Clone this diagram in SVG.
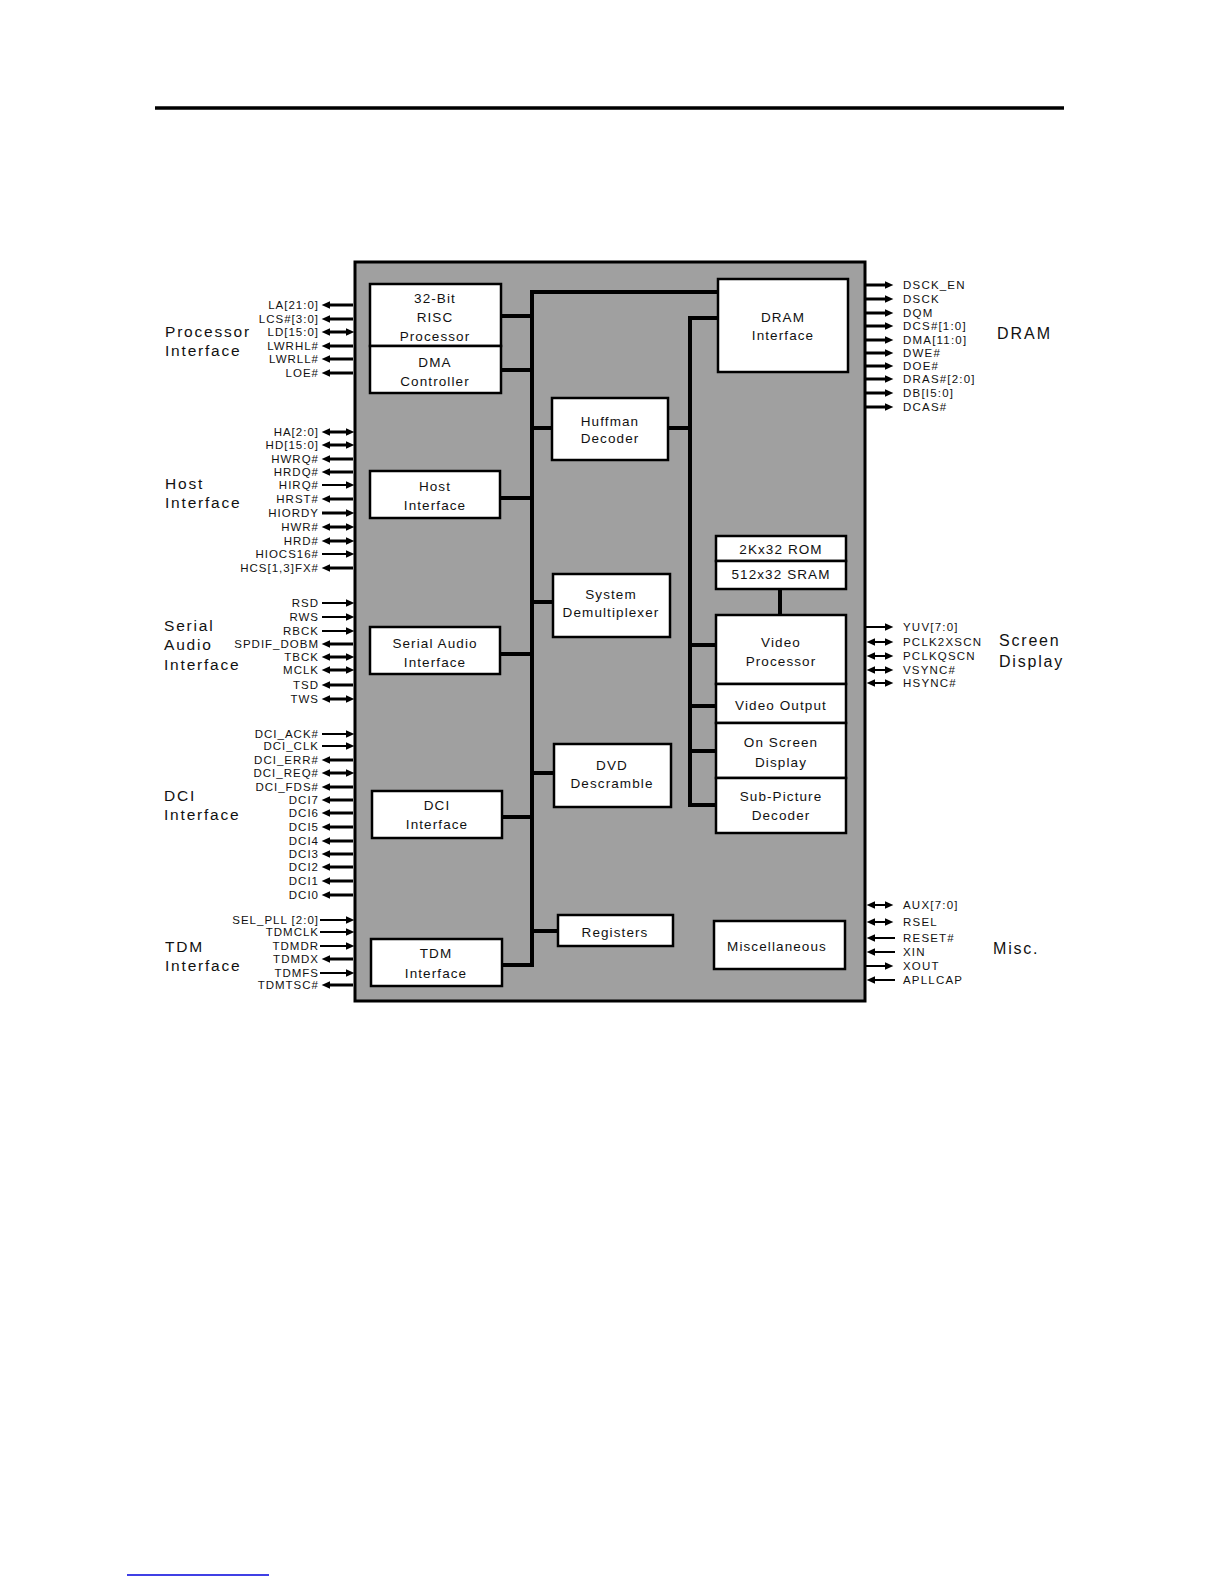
<svg xmlns="http://www.w3.org/2000/svg" width="1225" height="1585" viewBox="0 0 1225 1585">
<defs>
<marker id="ah" viewBox="0 0 8 7" refX="3" refY="3.5" markerWidth="9" markerHeight="7.5" markerUnits="userSpaceOnUse" orient="auto-start-reverse"><path d="M0,0 L8,3.5 L0,7 z" fill="#000"/></marker>
</defs>
<style>
.blk{fill:#fff;stroke:#000;stroke-width:2.5}
.bt{font-family:"Liberation Sans",Arial,sans-serif;font-size:13.5px;letter-spacing:1.1px;fill:#111;text-anchor:middle}
.sl{font-family:"Liberation Sans",Arial,sans-serif;font-size:11.5px;letter-spacing:1px;fill:#111;text-anchor:end}
.sr{font-family:"Liberation Sans",Arial,sans-serif;font-size:11.5px;letter-spacing:1.2px;fill:#111}
.gl{font-family:"Liberation Sans",Arial,sans-serif;font-size:15.5px;letter-spacing:1.8px;fill:#111}
.bus{stroke:#000;stroke-width:4;fill:none}
.o{stroke:#000;stroke-width:3}
.i{stroke:#000;stroke-width:2}
</style>
<line x1="155" y1="108" x2="1064" y2="108" stroke="#000" stroke-width="3.5"/>
<line x1="127" y1="1575" x2="269" y2="1575" stroke="#0000dd" stroke-width="1.5"/>
<rect id="chip" x="355" y="262" width="510" height="739" fill="#a0a0a0" stroke="#000" stroke-width="3"/>
<g id="connectors">
<path class="bus" d="M718,292 H532 V965"/>
<path class="bus" d="M718,318 H690 V805 H716"/>
<line class="bus" x1="501" y1="316" x2="532" y2="316"/>
<line class="bus" x1="501" y1="370" x2="532" y2="370"/>
<line class="bus" x1="532" y1="428" x2="552" y2="428"/>
<line class="bus" x1="500" y1="498" x2="532" y2="498"/>
<line class="bus" x1="532" y1="602" x2="553" y2="602"/>
<line class="bus" x1="500" y1="654" x2="532" y2="654"/>
<line class="bus" x1="532" y1="773" x2="554" y2="773"/>
<line class="bus" x1="502" y1="817" x2="532" y2="817"/>
<line class="bus" x1="532" y1="931" x2="558" y2="931"/>
<line class="bus" x1="502" y1="965" x2="534" y2="965"/>
<line class="bus" x1="668" y1="428" x2="690" y2="428"/>
<line class="bus" x1="690" y1="645" x2="716" y2="645"/>
<line class="bus" x1="690" y1="706" x2="716" y2="706"/>
<line class="bus" x1="690" y1="751" x2="716" y2="751"/>
<line class="bus" x1="780" y1="589" x2="780" y2="615"/>
</g>
<g id="risc"><rect class="blk" x="370" y="284" width="131" height="62"/><text class="bt" x="435" y="303">32-Bit</text><text class="bt" x="435" y="322">RISC</text><text class="bt" x="435" y="341">Processor</text></g>
<g id="dma"><rect class="blk" x="370" y="346" width="131" height="47"/><text class="bt" x="435" y="367">DMA</text><text class="bt" x="435" y="386">Controller</text></g>
<g id="dram-if"><rect class="blk" x="718" y="279" width="130" height="93"/><text class="bt" x="783" y="322">DRAM</text><text class="bt" x="783" y="340">Interface</text></g>
<g id="huffman"><rect class="blk" x="552" y="398" width="116" height="62"/><text class="bt" x="610" y="426">Huffman</text><text class="bt" x="610" y="443">Decoder</text></g>
<g id="host-if"><rect class="blk" x="370" y="471" width="130" height="47"/><text class="bt" x="435" y="491">Host</text><text class="bt" x="435" y="510">Interface</text></g>
<g id="rom"><rect class="blk" x="716" y="536" width="130" height="25"/><text class="bt" x="781" y="554">2Kx32 ROM</text></g>
<g id="sram"><rect class="blk" x="716" y="561" width="130" height="28"/><text class="bt" x="781" y="579">512x32 SRAM</text></g>
<g id="sysdemux"><rect class="blk" x="553" y="574" width="117" height="63"/><text class="bt" x="611" y="599">System</text><text class="bt" x="611" y="617">Demultiplexer</text></g>
<g id="serial-if"><rect class="blk" x="370" y="627" width="130" height="47"/><text class="bt" x="435" y="648">Serial Audio</text><text class="bt" x="435" y="667">Interface</text></g>
<g id="video-proc"><rect class="blk" x="716" y="615" width="130" height="69"/><text class="bt" x="781" y="647">Video</text><text class="bt" x="781" y="666">Processor</text></g>
<g id="video-out"><rect class="blk" x="716" y="684" width="130" height="39"/><text class="bt" x="781" y="710">Video Output</text></g>
<g id="osd"><rect class="blk" x="716" y="723" width="130" height="55"/><text class="bt" x="781" y="747">On Screen</text><text class="bt" x="781" y="767">Display</text></g>
<g id="dvd"><rect class="blk" x="554" y="744" width="117" height="63"/><text class="bt" x="612" y="770">DVD</text><text class="bt" x="612" y="788">Descramble</text></g>
<g id="subpic"><rect class="blk" x="716" y="778" width="130" height="55"/><text class="bt" x="781" y="801">Sub-Picture</text><text class="bt" x="781" y="820">Decoder</text></g>
<g id="dci-if"><rect class="blk" x="372" y="791" width="130" height="47"/><text class="bt" x="437" y="810">DCI</text><text class="bt" x="437" y="829">Interface</text></g>
<g id="registers"><rect class="blk" x="558" y="915" width="115" height="31"/><text class="bt" x="615" y="937">Registers</text></g>
<g id="misc"><rect class="blk" x="714" y="921" width="131" height="48"/><text class="bt" x="777" y="951">Miscellaneous</text></g>
<g id="tdm-if"><rect class="blk" x="371" y="939" width="131" height="47"/><text class="bt" x="436" y="958">TDM</text><text class="bt" x="436" y="978">Interface</text></g>
<g id="group-labels">
<text class="gl" x="165" y="337">Processor</text><text class="gl" x="165" y="356">Interface</text>
<text class="gl" x="165" y="489">Host</text><text class="gl" x="165" y="508">Interface</text>
<text class="gl" x="164" y="631">Serial</text><text class="gl" x="164" y="650">Audio</text><text class="gl" x="164" y="670">Interface</text>
<text class="gl" x="164" y="801">DCI</text><text class="gl" x="164" y="820">Interface</text>
<text class="gl" x="165" y="952">TDM</text><text class="gl" x="165" y="971">Interface</text>
<text class="gl" x="997" y="339" style="font-size:16px;letter-spacing:2px">DRAM</text>
<text class="gl" x="999" y="646" style="font-size:16px">Screen</text><text class="gl" x="999" y="667" style="font-size:16px">Display</text>
<text class="gl" x="993" y="954" style="font-size:16px">Misc.</text>
</g>
<g id="left-signals">
<line class="o" x1="353" y1="305" x2="327" y2="305" marker-end="url(#ah)"/><text class="sl" x="319" y="309">LA[21:0]</text>
<line class="o" x1="353" y1="319" x2="327" y2="319" marker-end="url(#ah)"/><text class="sl" x="319" y="323">LCS#[3:0]</text>
<line class="o" x1="327" y1="332" x2="349" y2="332" marker-start="url(#ah)" marker-end="url(#ah)"/><text class="sl" x="319" y="336">LD[15:0]</text>
<line class="o" x1="353" y1="346" x2="327" y2="346" marker-end="url(#ah)"/><text class="sl" x="319" y="350">LWRHL#</text>
<line class="o" x1="353" y1="359" x2="327" y2="359" marker-end="url(#ah)"/><text class="sl" x="319" y="363">LWRLL#</text>
<line class="o" x1="353" y1="373" x2="327" y2="373" marker-end="url(#ah)"/><text class="sl" x="319" y="377">LOE#</text>
<line class="o" x1="327" y1="432" x2="349" y2="432" marker-start="url(#ah)" marker-end="url(#ah)"/><text class="sl" x="319" y="436">HA[2:0]</text>
<line class="o" x1="327" y1="445" x2="349" y2="445" marker-start="url(#ah)" marker-end="url(#ah)"/><text class="sl" x="319" y="449">HD[15:0]</text>
<line class="o" x1="353" y1="459" x2="327" y2="459" marker-end="url(#ah)"/><text class="sl" x="319" y="463">HWRQ#</text>
<line class="o" x1="353" y1="472" x2="327" y2="472" marker-end="url(#ah)"/><text class="sl" x="319" y="476">HRDQ#</text>
<line class="i" x1="322" y1="485" x2="349" y2="485" marker-end="url(#ah)"/><text class="sl" x="319" y="489">HIRQ#</text>
<line class="o" x1="353" y1="499" x2="327" y2="499" marker-end="url(#ah)"/><text class="sl" x="319" y="503">HRST#</text>
<line class="o" x1="322" y1="513" x2="349" y2="513" marker-end="url(#ah)"/><text class="sl" x="319" y="517">HIORDY</text>
<line class="o" x1="327" y1="527" x2="349" y2="527" marker-start="url(#ah)" marker-end="url(#ah)"/><text class="sl" x="319" y="531">HWR#</text>
<line class="o" x1="327" y1="541" x2="349" y2="541" marker-start="url(#ah)" marker-end="url(#ah)"/><text class="sl" x="319" y="545">HRD#</text>
<line class="i" x1="322" y1="554" x2="349" y2="554" marker-end="url(#ah)"/><text class="sl" x="319" y="558">HIOCS16#</text>
<line class="o" x1="353" y1="568" x2="327" y2="568" marker-end="url(#ah)"/><text class="sl" x="319" y="572">HCS[1,3]FX#</text>
<line class="i" x1="322" y1="603" x2="349" y2="603" marker-end="url(#ah)"/><text class="sl" x="319" y="607">RSD</text>
<line class="i" x1="322" y1="617" x2="349" y2="617" marker-end="url(#ah)"/><text class="sl" x="319" y="621">RWS</text>
<line class="i" x1="322" y1="631" x2="349" y2="631" marker-end="url(#ah)"/><text class="sl" x="319" y="635">RBCK</text>
<line class="o" x1="353" y1="644" x2="327" y2="644" marker-end="url(#ah)"/><text class="sl" x="319" y="648">SPDIF_DOBM</text>
<line class="o" x1="327" y1="657" x2="349" y2="657" marker-start="url(#ah)" marker-end="url(#ah)"/><text class="sl" x="319" y="661">TBCK</text>
<line class="o" x1="327" y1="670" x2="349" y2="670" marker-start="url(#ah)" marker-end="url(#ah)"/><text class="sl" x="319" y="674">MCLK</text>
<line class="o" x1="353" y1="685" x2="327" y2="685" marker-end="url(#ah)"/><text class="sl" x="319" y="689">TSD</text>
<line class="o" x1="327" y1="699" x2="349" y2="699" marker-start="url(#ah)" marker-end="url(#ah)"/><text class="sl" x="319" y="703">TWS</text>
<line class="i" x1="322" y1="734" x2="349" y2="734" marker-end="url(#ah)"/><text class="sl" x="319" y="738">DCI_ACK#</text>
<line class="i" x1="322" y1="746" x2="349" y2="746" marker-end="url(#ah)"/><text class="sl" x="319" y="750">DCI_CLK</text>
<line class="o" x1="353" y1="760" x2="327" y2="760" marker-end="url(#ah)"/><text class="sl" x="319" y="764">DCI_ERR#</text>
<line class="o" x1="327" y1="773" x2="349" y2="773" marker-start="url(#ah)" marker-end="url(#ah)"/><text class="sl" x="319" y="777">DCI_REQ#</text>
<line class="o" x1="353" y1="787" x2="327" y2="787" marker-end="url(#ah)"/><text class="sl" x="319" y="791">DCI_FDS#</text>
<line class="o" x1="353" y1="800" x2="327" y2="800" marker-end="url(#ah)"/><text class="sl" x="319" y="804">DCI7</text>
<line class="o" x1="353" y1="813" x2="327" y2="813" marker-end="url(#ah)"/><text class="sl" x="319" y="817">DCI6</text>
<line class="o" x1="353" y1="827" x2="327" y2="827" marker-end="url(#ah)"/><text class="sl" x="319" y="831">DCI5</text>
<line class="o" x1="353" y1="841" x2="327" y2="841" marker-end="url(#ah)"/><text class="sl" x="319" y="845">DCI4</text>
<line class="o" x1="353" y1="854" x2="327" y2="854" marker-end="url(#ah)"/><text class="sl" x="319" y="858">DCI3</text>
<line class="o" x1="353" y1="867" x2="327" y2="867" marker-end="url(#ah)"/><text class="sl" x="319" y="871">DCI2</text>
<line class="o" x1="353" y1="881" x2="327" y2="881" marker-end="url(#ah)"/><text class="sl" x="319" y="885">DCI1</text>
<line class="o" x1="353" y1="895" x2="327" y2="895" marker-end="url(#ah)"/><text class="sl" x="319" y="899">DCI0</text>
<line class="i" x1="320" y1="920" x2="349" y2="920" marker-end="url(#ah)"/><text class="sl" x="319" y="924">SEL_PLL [2:0]</text>
<line class="i" x1="320" y1="932" x2="349" y2="932" marker-end="url(#ah)"/><text class="sl" x="319" y="936">TDMCLK</text>
<line class="i" x1="320" y1="946" x2="349" y2="946" marker-end="url(#ah)"/><text class="sl" x="319" y="950">TDMDR</text>
<line class="o" x1="353" y1="959" x2="327" y2="959" marker-end="url(#ah)"/><text class="sl" x="319" y="963">TDMDX</text>
<line class="i" x1="320" y1="973" x2="349" y2="973" marker-end="url(#ah)"/><text class="sl" x="319" y="977">TDMFS</text>
<line class="o" x1="353" y1="985" x2="327" y2="985" marker-end="url(#ah)"/><text class="sl" x="319" y="989">TDMTSC#</text>
</g>
<g id="right-signals">
<line class="o" x1="866" y1="285" x2="888" y2="285" marker-end="url(#ah)"/><text class="sr" x="903" y="289">DSCK_EN</text>
<line class="o" x1="866" y1="299" x2="888" y2="299" marker-end="url(#ah)"/><text class="sr" x="903" y="303">DSCK</text>
<line class="o" x1="866" y1="313" x2="888" y2="313" marker-end="url(#ah)"/><text class="sr" x="903" y="317">DQM</text>
<line class="o" x1="866" y1="326" x2="888" y2="326" marker-end="url(#ah)"/><text class="sr" x="903" y="330">DCS#[1:0]</text>
<line class="o" x1="866" y1="340" x2="888" y2="340" marker-end="url(#ah)"/><text class="sr" x="903" y="344">DMA[11:0]</text>
<line class="o" x1="866" y1="353" x2="888" y2="353" marker-end="url(#ah)"/><text class="sr" x="903" y="357">DWE#</text>
<line class="o" x1="866" y1="366" x2="888" y2="366" marker-end="url(#ah)"/><text class="sr" x="903" y="370">DOE#</text>
<line class="o" x1="866" y1="379" x2="888" y2="379" marker-end="url(#ah)"/><text class="sr" x="903" y="383">DRAS#[2:0]</text>
<line class="o" x1="866" y1="393" x2="888" y2="393" marker-end="url(#ah)"/><text class="sr" x="903" y="397">DB[I5:0]</text>
<line class="o" x1="866" y1="407" x2="888" y2="407" marker-end="url(#ah)"/><text class="sr" x="903" y="411">DCAS#</text>
<line class="i" x1="866" y1="627" x2="888" y2="627" marker-end="url(#ah)"/><text class="sr" x="903" y="631">YUV[7:0]</text>
<line class="i" x1="872" y1="642" x2="888" y2="642" marker-start="url(#ah)" marker-end="url(#ah)"/><text class="sr" x="903" y="646">PCLK2XSCN</text>
<line class="i" x1="872" y1="656" x2="888" y2="656" marker-start="url(#ah)" marker-end="url(#ah)"/><text class="sr" x="903" y="660">PCLKQSCN</text>
<line class="i" x1="872" y1="670" x2="888" y2="670" marker-start="url(#ah)" marker-end="url(#ah)"/><text class="sr" x="903" y="674">VSYNC#</text>
<line class="i" x1="872" y1="683" x2="888" y2="683" marker-start="url(#ah)" marker-end="url(#ah)"/><text class="sr" x="903" y="687">HSYNC#</text>
<line class="i" x1="872" y1="905" x2="888" y2="905" marker-start="url(#ah)" marker-end="url(#ah)"/><text class="sr" x="903" y="909">AUX[7:0]</text>
<line class="i" x1="872" y1="922" x2="888" y2="922" marker-start="url(#ah)" marker-end="url(#ah)"/><text class="sr" x="903" y="926">RSEL</text>
<line class="i" x1="895" y1="938" x2="872" y2="938" marker-end="url(#ah)"/><text class="sr" x="903" y="942">RESET#</text>
<line class="i" x1="895" y1="952" x2="872" y2="952" marker-end="url(#ah)"/><text class="sr" x="903" y="956">XIN</text>
<line class="i" x1="866" y1="966" x2="888" y2="966" marker-end="url(#ah)"/><text class="sr" x="903" y="970">XOUT</text>
<line class="i" x1="895" y1="980" x2="872" y2="980" marker-end="url(#ah)"/><text class="sr" x="903" y="984">APLLCAP</text>
</g>
</svg>
